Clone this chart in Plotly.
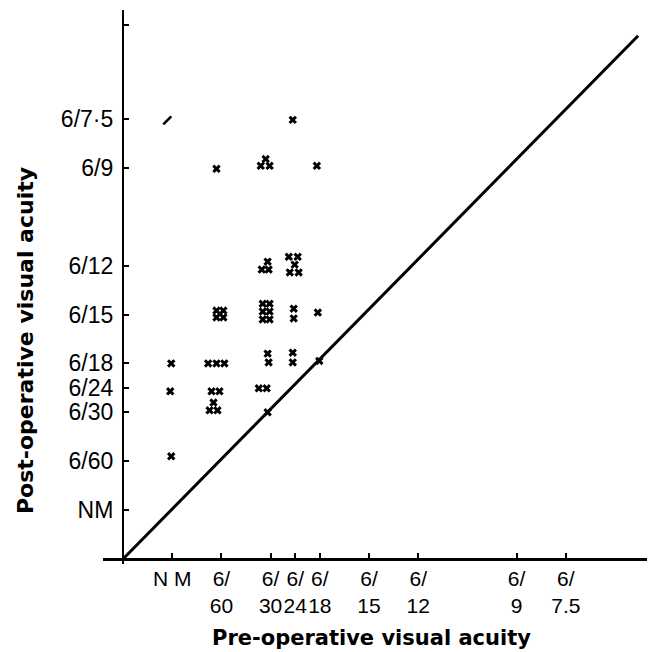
import plotly.graph_objects as go

# ---- tick categories (acuity scale positions) ----
tick_vals = [1, 2, 3, 3.5, 4, 5, 6, 8, 9]
y_tick_text = ["NM", "6/60", "6/30", "6/24", "6/18", "6/15", "6/12", "6/9", "6/7·5"]
x_tick_text = ["N M", "6/<br>60", "6/<br>30", "6/<br>24", "6/<br>18", "6/<br>15", "6/<br>12", "6/<br>9", "6/<br>7.5"]

# ---- patients: pre-operative (x) vs post-operative (y) acuity, as plotted ----
pre_op = [3.45, 1.90, 2.90, 2.80, 2.98, 3.94,
          2.94, 2.82, 2.96, 3.37, 3.55, 3.49, 3.39, 3.57,
          1.90, 2.04, 1.90, 2.04,
          2.84, 2.98, 2.84, 2.98, 2.84, 2.98,
          3.47, 3.47, 3.96,
          0.98, 1.73, 1.90, 2.06, 2.94, 2.96, 3.45, 3.45, 3.99,
          0.96, 1.80, 1.96, 2.76, 2.92,
          1.84, 1.76, 1.92, 2.94,
          0.98]
post_op = [8.98, 7.98, 8.18, 8.04, 8.04, 8.04,
           6.08, 5.92, 5.92, 6.18, 6.18, 6.02, 5.86, 5.86,
           5.08, 5.08, 4.94, 4.94,
           5.22, 5.22, 5.06, 5.06, 4.90, 4.90,
           5.12, 4.92, 5.04,
           4.00, 4.00, 4.00, 4.00, 4.20, 4.02, 4.22, 4.02, 4.05,
           3.43, 3.43, 3.43, 3.49, 3.49,
           3.20, 3.04, 3.04, 3.00,
           2.10]

# stray pen mark in the original figure
stray_x = [0.90]
stray_y = [8.97]

# line of no change
diag_x = [0, 10.47]
diag_y = [0, 10.70]

x_tick_font = dict(family="Liberation Sans Narrow, Liberation Sans, Arial, sans-serif",
                   size=21, color="black")
y_tick_font = dict(family="Liberation Sans Narrow, Liberation Sans, Arial, sans-serif",
                   size=23, color="black")
y_title_font = dict(family="DejaVu Sans, Arial, sans-serif", size=22, color="black", weight="bold")
x_title_font = dict(family="DejaVu Sans, Arial, sans-serif", size=21, color="black", weight="bold")

# page body has an 8px margin: compensate so the plot area sits at 103..650 x 10..564
fig = go.Figure()
fig.add_trace(go.Scatter(x=diag_x, y=diag_y, mode="lines",
                         line=dict(color="black", width=3), hoverinfo="skip"))
fig.add_trace(go.Scatter(x=pre_op, y=post_op, mode="markers",
                         marker=dict(symbol="x", size=7.5, color="black", line=dict(width=0))))
fig.add_trace(go.Scatter(x=stray_x, y=stray_y, mode="markers",
                         marker=dict(symbol="line-ne", size=8, color="black",
                                     line=dict(width=2.5, color="black"))))


def px_x(p):
    return (p - 103) / 547


def px_y(p):
    return (564 - p) / 554


fig.update_layout(
    width=655, height=652,
    margin=dict(l=95, r=13, t=2, b=96, autoexpand=False),
    paper_bgcolor="white", plot_bgcolor="white",
    showlegend=False,
    xaxis=dict(range=[-0.4065, 10.711], anchor="free", position=5 / 554,
               showline=True, linecolor="black", linewidth=2.5,
               showgrid=False, zeroline=False, automargin=False,
               tickmode="array", tickvals=tick_vals, ticktext=x_tick_text,
               ticks="inside", ticklen=5, tickwidth=2, tickcolor="black", tickangle=0,
               tickfont=x_tick_font, ticklabelstandoff=0),
    yaxis=dict(range=[-0.102, 11.227], anchor="free", position=20 / 547,
               showline=True, linecolor="black", linewidth=2.2,
               showgrid=False, zeroline=False, automargin=False,
               tickmode="array", tickvals=tick_vals + [10.92], ticktext=y_tick_text + [""],
               ticks="inside", ticklen=5, tickwidth=2, tickcolor="black",
               tickfont=y_tick_font, ticklabelstandoff=4),
    annotations=[
        dict(text="Post-operative visual acuity", textangle=-90, showarrow=False,
             xref="paper", yref="paper", x=px_x(25), y=px_y(341),
             xanchor="center", yanchor="middle", font=y_title_font),
        dict(text="Pre-operative visual acuity", showarrow=False,
             xref="paper", yref="paper", x=px_x(371), y=px_y(638),
             xanchor="center", yanchor="middle", font=x_title_font),
    ],
)

fig.write_html("out.html")
